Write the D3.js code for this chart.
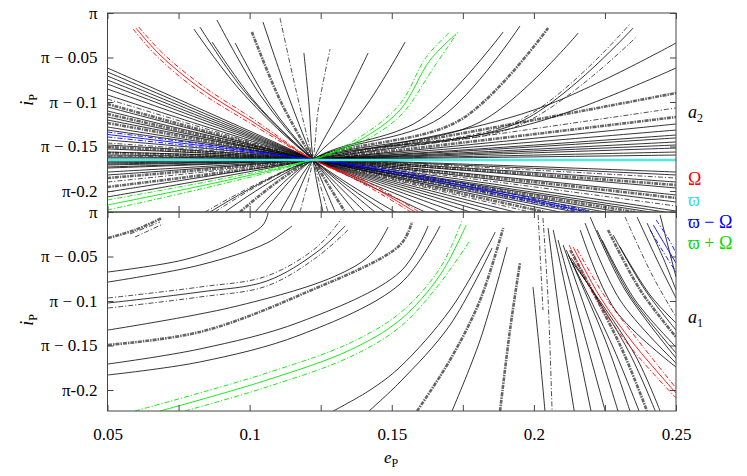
<!DOCTYPE html>
<html><head><meta charset="utf-8">
<script src="https://cdn.jsdelivr.net/npm/d3@7"></script>
<style>body{margin:0;background:#fff}</style>
</head><body>
<svg id="c" width="747" height="476"></svg>
<script>
// ---------------- DATA (e_P, delta = pi - i_P) ----------------
const eDomain = [0.05, 0.25];
const dDomain = [0, 0.2236];
const xTicks = [0.05,0.075,0.1,0.125,0.15,0.175,0.2,0.225,0.25];
const xLabelVals = [0.05,0.1,0.15,0.2,0.25];
const xLabelText = ['0.05','0.1','0.15','0.2','0.25'];
const yTicks = [0,0.05,0.1,0.15,0.2];
const yTickLabels = ['π','π − 0.05','π − 0.1','π − 0.15','π-0.2'];
const N = [0.1223, 0.1646]; // common crossing point of the a2 curves

const a2Solid = [
 [[0.05,0.0618],N,[0.1617,0.2236]],
 [[0.05,0.0663],N,[0.1670,0.2236]],
 [[0.05,0.0708],N,[0.1723,0.2236]],
 [[0.05,0.0753],N,[0.1776,0.2236]],
 [[0.05,0.0798],N,[0.1828,0.2236]],
 [[0.05,0.0854],N,[0.1881,0.2236]],
 [[0.05,0.0921],N,[0.1934,0.2236]],
 [[0.05,0.1056],N,[0.2092,0.2236]],
 [[0.05,0.1101],N,[0.2145,0.2236]],
 [[0.05,0.1169],N,[0.2251,0.2236]],
 [[0.05,0.1202],N,[0.2303,0.2236]],
 [[0.05,0.1281],N,[0.2409,0.2236]],
 [[0.05,0.1315],N,[0.2462,0.2236]],
 [[0.05,0.1427],N,[0.25,0.2225]],
 [[0.05,0.1483],N,[0.25,0.2124]],
 [[0.05,0.1528],N,[0.25,0.2045]],
 [[0.05,0.1562],N,[0.25,0.1966]],
 [[0.05,0.1596],N,[0.25,0.1899]],
 [[0.05,0.1618],N,[0.25,0.1820]],
 [[0.05,0.1630],N,[0.25,0.1787]],
 [[0.05,0.1663],N,[0.25,0.1596]],
 [[0.05,0.1674],N,[0.25,0.1562]],
 [[0.05,0.1685],N,[0.25,0.1517]],
 [[0.05,0.1697],N,[0.25,0.1483]],
 [[0.05,0.1708],N,[0.25,0.1449]],
 [[0.05,0.1730],N,[0.25,0.1404]],
 [[0.05,0.1742],N,[0.25,0.1371]],
 [[0.05,0.1787],N,[0.25,0.1315]],
 [[0.05,0.1820],N,[0.25,0.1247]],
 [[0.05,0.2011],N,[0.2000,0.1236],[0.25,0.0618]],
 [[0.05,0.2067],N,[0.2000,0.1090],[0.25,0.0337]],
 [[0.0804,0.0180],[0.0966,0.0865],N,[0.1512,0.2236]],
 [[0.0825,0.0157],[0.0984,0.0888],N,[0.1476,0.2236]],
 [[0.0868,0.0326],[0.1019,0.1000],N,[0.1441,0.2236]],
 [[0.0885,0.0079],[0.1037,0.0921],N,[0.1406,0.2236]],
 [[0.0949,0.0337],[0.1072,0.1034],N,[0.1371,0.2236]],
 [[0.1047,0.0101],[0.1135,0.0921],N,[0.1301,0.2236]],
 [[0.1191,0.0449],[0.1209,0.1034],N,[0.1258,0.2236]],
 [[0.1142,0.2236],N,[0.1318,0.1090],[0.1417,0.0449]],
 [[0.1107,0.2236],N,[0.1388,0.1135],[0.1547,0.0326]],
 [[0.1054,0.2236],N,[0.1600,0.1202],[0.1892,0.0213]],
 [[0.1019,0.2236],N,[0.1670,0.1180],[0.1951,0.0146]],
 [[0.0913,0.2236],N,[0.1811,0.1225],[0.2156,0.0225]],
 [[0.0861,0.2236],N,[0.1951,0.1225],[0.2349,0.0169]]
];
const a2DashDot = [
 [[0.05,0.0966],N,[0.1987,0.2236]],
 [[0.05,0.1461],N,[0.25,0.2169]],
 [[0.05,0.1607],N,[0.25,0.1854]],
 [[0.05,0.1899],N,[0.25,0.1067]],
 [[0.1107,0.0056],[0.1163,0.0865],N,[0.1276,0.2236]],
 [[0.1177,0.2236],N,[0.1241,0.1090],[0.1283,0.0405]],
 [[0.0843,0.2236],N,[0.1951,0.1202],[0.2338,0.0124]],
 [[0.0878,0.2236],N,[0.1951,0.1258],[0.2360,0.0270]]
];
const a2Bundle = [
 [[0.05,0.1022],N,[0.2039,0.2236]],
 [[0.05,0.1135],N,[0.2198,0.2236]],
 [[0.05,0.1236],N,[0.2356,0.2236]],
 [[0.05,0.1506],N,[0.25,0.2079]],
 [[0.05,0.1573],N,[0.25,0.1933]],
 [[0.05,0.1854],N,[0.25,0.1169]],
 [[0.05,0.1955],N,[0.25,0.0899]],
 [[0.1008,0.0213],[0.1107,0.0978],N,[0.1336,0.2236]],
 [[0.0966,0.2236],N,[0.1741,0.1202],[0.2050,0.0169]]
];
const a2Red = [
 [[0.0590,0.0180],[0.0675,0.0490],[0.0815,0.0865],[0.0995,0.1225],N,[0.1395,0.1866],[0.1597,0.2236]],
 [[0.0600,0.0169],[0.0685,0.0472],[0.0825,0.0843],[0.1001,0.1202],N,[0.1388,0.1876],[0.1582,0.2236]],
 [[0.0610,0.0158],[0.0695,0.0455],[0.0835,0.0820],[0.1007,0.1180],N,[0.1381,0.1886],[0.1567,0.2236]]
];
const a2Cyan = [[[0.05,0.1652],[0.25,0.1652]]];
const a2Blue = [
 [[0.05,0.1337],N,[0.1529,0.1820],[0.2162,0.2236]],
 [[0.05,0.1365],N,[0.1529,0.1798],[0.2187,0.2236]],
 [[0.05,0.1393],N,[0.1529,0.1775],[0.2212,0.2236]]
];
const a2Green = [
 [[0.05,0.2101],N,[0.1388,0.1460],[0.1529,0.1157],[0.1650,0.0600],[0.1733,0.0213]],
 [[0.05,0.2157],N,[0.1388,0.1427],[0.1529,0.1090],[0.1635,0.0528],[0.1726,0.0236]],
 [[0.05,0.2213],N,[0.1388,0.1393],[0.1529,0.1022],[0.1620,0.0500],[0.1701,0.0225]]
];

const a1Solid = [
 [[0.0502,0.0674],[0.0766,0.0539],[0.0942,0.0348],[0.1047,0.0146],[0.1065,0.0011]],
 [[0.0502,0.0787],[0.0825,0.0596],[0.1061,0.0348],[0.1149,0.0157]],
 [[0.0502,0.1022],[0.0825,0.0899],[0.1061,0.0775],[0.1237,0.0449],[0.1336,0.0157]],
 [[0.0502,0.1326],[0.0942,0.1067],[0.1294,0.0730],[0.1424,0.0483],[0.1487,0.0169]],
 [[0.0502,0.1708],[0.0825,0.1539],[0.1177,0.1236],[0.1529,0.0674],[0.1628,0.0157]],
 [[0.0502,0.1831],[0.0825,0.1685],[0.1177,0.1382],[0.1529,0.0809],[0.1670,0.0157]],
 [[0.1294,0.2236],[0.1424,0.2000],[0.1529,0.1742],[0.1705,0.1101],[0.1835,0.0404],[0.1864,0.0225]],
 [[0.1420,0.2236],[0.1529,0.1910],[0.1705,0.1270],[0.1853,0.0404]],
 [[0.1712,0.2236],[0.1811,0.1438],[0.1906,0.0393]],
 [[0.1997,0.0843],[0.2018,0.1500],[0.2039,0.2236]],
 [[0.2050,0.0180],[0.2092,0.1213],[0.2142,0.2236]],
 [[0.2068,0.0202],[0.2135,0.1213],[0.2201,0.2236]],
 [[0.2085,0.0315],[0.2173,0.1326],[0.2251,0.2236]],
 [[0.2103,0.0371],[0.2212,0.1382],[0.2296,0.2236]],
 [[0.2114,0.0427],[0.2251,0.1438],[0.2338,0.2236]],
 [[0.2121,0.0483],[0.2275,0.1494],[0.2370,0.2236]],
 [[0.2131,0.0517],[0.2331,0.1551],[0.2427,0.2236]],
 [[0.2135,0.0562],[0.2356,0.1607],[0.2444,0.2236]],
 [[0.2163,0.0202],[0.2286,0.1101],[0.25,0.1742]],
 [[0.2180,0.0124],[0.2303,0.0989],[0.25,0.1697]],
 [[0.2198,0.0056],[0.2321,0.0876],[0.25,0.1640]],
 [[0.2222,0.0202],[0.2338,0.0933],[0.25,0.1584]],
 [[0.2240,0.0315],[0.2356,0.0989],[0.25,0.1517]],
 [[0.2279,0.0258],[0.2391,0.0876],[0.25,0.1326]],
 [[0.2303,0.0393],[0.2409,0.0933],[0.25,0.1247]],
 [[0.2363,0.0056],[0.2437,0.0562],[0.25,0.0966]],
 [[0.2398,0.0124],[0.2455,0.0517],[0.25,0.0876]],
 [[0.2444,0.0034],[0.25,0.0730]]
];
const a1DashDot = [
 [[0.0502,0.0966],[0.0825,0.0843],[0.1061,0.0719],[0.1237,0.0393],[0.1322,0.0079]],
 [[0.0502,0.1079],[0.0825,0.0955],[0.1061,0.0831],[0.1237,0.0506],[0.1346,0.0202]],
 [[0.0579,0.0247],[0.0685,0.0112]],
 [[0.0597,0.0281],[0.0695,0.0135]],
 [[0.2015,0.0034],[0.2032,0.1101]],
 [[0.2032,0.0067],[0.2050,0.0989],[0.2064,0.2236]],
 [[0.2321,0.0056],[0.2416,0.0708],[0.25,0.1180]]
];
const a1Bundle = [
 [[0.0502,0.0292],[0.0597,0.0202],[0.0692,0.0067]],
 [[0.0502,0.1494],[0.0825,0.1348],[0.1177,0.0933],[0.1529,0.0371],[0.1571,0.0112]],
 [[0.1589,0.2236],[0.1705,0.1663],[0.1811,0.0989],[0.1892,0.0180]],
 [[0.1881,0.2236],[0.1916,0.1326],[0.1951,0.0573]],
 [[0.2128,0.0427],[0.2303,0.1494],[0.2398,0.2236]],
 [[0.2261,0.0202],[0.2374,0.0876],[0.25,0.1404]]
];
const a1Red = [
 [[0.2124,0.0371],[0.2222,0.0989],[0.2342,0.1528],[0.25,0.2090]],
 [[0.2138,0.0393],[0.2233,0.0955],[0.2349,0.1472],[0.25,0.2034]],
 [[0.2152,0.0416],[0.2244,0.0921],[0.2360,0.1416],[0.25,0.1978]]
];
const a1Blue = [
 [[0.2409,0.0202],[0.2451,0.0427],[0.25,0.0674]],
 [[0.2420,0.0146],[0.2462,0.0371],[0.25,0.0573]],
 [[0.2430,0.0090],[0.2472,0.0292],[0.25,0.0461]]
];
const a1Green = [
 [[0.0597,0.2236],[0.1061,0.1809],[0.1353,0.1472],[0.1529,0.1135],[0.1670,0.0629],[0.1748,0.0090]],
 [[0.0685,0.2236],[0.1061,0.1888],[0.1353,0.1551],[0.1529,0.1213],[0.1670,0.0708],[0.1762,0.0146]],
 [[0.0773,0.2236],[0.1061,0.1966],[0.1353,0.1629],[0.1529,0.1292],[0.1670,0.0798],[0.1776,0.0315]]
];

// ---------------- DRAWING ----------------
const svg = d3.select('#c');
svg.append('rect').attr('width',747).attr('height',476).attr('fill','#fff');
const FONT = "Liberation Serif, Times New Roman, DejaVu Serif, serif";
const x = d3.scaleLinear().domain(eDomain).range([107.5, 676]);
const DASH = '5,2,1.2,2';

const panels = [
  {id:'p2', top:13, bottom:212, solid:a2Solid, dash:a2DashDot, bundle:a2Bundle,
   colored:[[a2Red,'#ff0000'],[a2Blue,'#0000ff'],[a2Green,'#00e800']], cyan:a2Cyan},
  {id:'p1', top:212, bottom:411, solid:a1Solid, dash:a1DashDot, bundle:a1Bundle,
   colored:[[a1Red,'#ff0000'],[a1Blue,'#0000ff'],[a1Green,'#00e800']], cyan:[]}
];

panels.forEach((p, pi) => {
  const y = d3.scaleLinear().domain(dDomain).range([p.top, p.bottom]);
  svg.append('clipPath').attr('id','clip'+p.id).append('rect')
    .attr('x',107.5).attr('y',p.top).attr('width',676-107.5).attr('height',p.bottom-p.top);
  const g = svg.append('g').attr('clip-path','url(#clip'+p.id+')');
  const line = d3.line().x(d=>x(d[0])).y(d=>y(d[1])).curve(d3.curveCatmullRom.alpha(0.5));

  g.selectAll('path.b').data(p.bundle).join('path').attr('d',line)
    .attr('fill','none').attr('stroke','#666').attr('stroke-width',2.6).attr('stroke-dasharray','4,1,1.5,1');
  g.selectAll('path.s').data(p.solid).join('path').attr('d',line)
    .attr('fill','none').attr('stroke','#000').attr('stroke-width',0.8);
  g.selectAll('path.d').data(p.dash).join('path').attr('d',line)
    .attr('fill','none').attr('stroke','#222').attr('stroke-width',0.8).attr('stroke-dasharray',DASH);
  p.colored.forEach(([set,col]) => {
    g.selectAll(null).data(set).join('path').attr('d',line)
      .attr('fill','none').attr('stroke',col).attr('stroke-width',0.9)
      .attr('stroke-dasharray',(d,i)=> i===1 ? null : DASH);
  });
  g.selectAll(null).data(p.cyan).join('path').attr('d',line)
    .attr('fill','none').attr('stroke','#4fe8e8').attr('stroke-width',2.4);

  // axes (ticks inward)
  const left = svg.append('g').attr('transform','translate(107.5,0)')
    .call(d3.axisLeft(y).tickValues(yTicks).tickSize(-6).tickPadding(10).tickFormat((d,i)=>yTickLabels[i]));
  const right = svg.append('g').attr('transform','translate(676,0)')
    .call(d3.axisRight(y).tickValues(yTicks).tickSize(-6).tickFormat(''));
  const topAx = svg.append('g').attr('transform',`translate(0,${p.top})`)
    .call(d3.axisTop(x).tickValues(xTicks).tickSize(-6).tickFormat(''));
  const botAx = svg.append('g').attr('transform',`translate(0,${p.bottom})`)
    .call(d3.axisBottom(x).tickValues(xTicks).tickSize(-6).tickPadding(17)
      .tickFormat(d => { const k = xLabelVals.findIndex(v=>Math.abs(v-d)<1e-9); return (pi===1 && k>=0) ? xLabelText[k] : ''; }));
  [left,right,topAx,botAx].forEach(a => {
    a.attr('font-family',FONT);
    a.select('.domain').remove();
    a.selectAll('line').attr('stroke','#444').attr('stroke-width',1);
    a.selectAll('text').attr('font-family',FONT).attr('font-size',17).attr('fill','#000');
  });
  svg.append('rect').attr('x',107.5).attr('y',p.top).attr('width',676-107.5).attr('height',p.bottom-p.top)
    .attr('fill','none').attr('stroke','#444').attr('stroke-width',1);

  // y title
  const t = svg.append('text').attr('transform',`translate(33,${pi===0?100:320}) rotate(-90)`)
    .attr('text-anchor','middle').attr('font-family',FONT).attr('font-size',18);
  t.append('tspan').attr('font-style','italic').text('i');
  t.append('tspan').attr('font-size',12).attr('dy',4).text('P');
});

// x title
const xt = svg.append('text').attr('x',391).attr('y',463).attr('text-anchor','middle')
  .attr('font-family',FONT).attr('font-size',17);
xt.append('tspan').attr('font-style','italic').text('e');
xt.append('tspan').attr('font-size',12).attr('dy',4).text('P');

// right-side labels
function sub(xp, yp, main, s){
  const t = svg.append('text').attr('x',xp).attr('y',yp).attr('font-family',FONT).attr('font-size',18);
  t.append('tspan').attr('font-style','italic').text(main);
  t.append('tspan').attr('font-size',12).attr('dy',4).text(s);
}
sub(688,118,'a','2');
sub(688,323,'a','1');
const legendText = ['Ω','ϖ','ϖ − Ω','ϖ + Ω'];
const legendColor = ['#ff0000','#33dddd','#0000ff','#00dd00'];
const legendY = [185,206,228,249];
legendText.forEach((s,i)=>{
  svg.append('text').attr('x',688).attr('y',legendY[i]).attr('font-family',FONT).attr('font-size',18)
    .attr('fill',legendColor[i]).text(s);
});
</script>
</body></html>
